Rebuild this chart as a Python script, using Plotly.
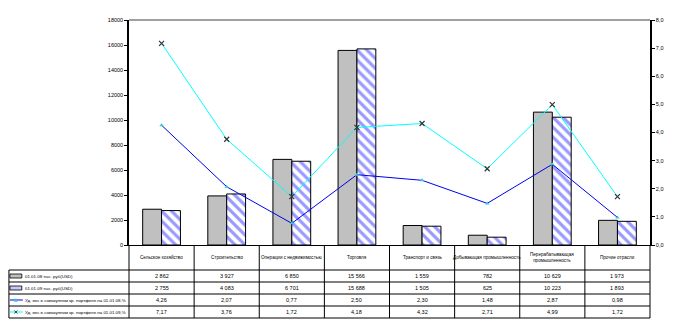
import plotly.graph_objects as go

categories = ["Сельское хозяйство", "Строительство", "Операции с недвижимостью", "Торговля",
              "Транспорт и связь", "Добывающая промышленность",
              "Перерабатывающая<br>промышленность", "Прочие отрасли"]
vol_2008 = [2862, 3927, 6850, 15566, 1559, 782, 10629, 1973]
vol_2009 = [2755, 4083, 6701, 15688, 1505, 625, 10223, 1893]
share_2008 = [4.26, 2.07, 0.77, 2.50, 2.30, 1.48, 2.87, 0.98]
share_2009 = [7.17, 3.76, 1.72, 4.18, 4.32, 2.71, 4.99, 1.72]
row_labels = ["01.01.08 тыс. руб(USD)", "01.01.09 тыс. руб(USD)",
              "Уд. вес в совокупном кр. портфеле на 01.01.08,%",
              "Уд. вес в совокупном кр. портфеле на 01.01.09,%"]
left_ticks = [0, 2000, 4000, 6000, 8000, 10000, 12000, 14000, 16000, 18000]
right_ticks = [0, 1, 2, 3, 4, 5, 6, 7, 8]

W, H = 676, 327
L, R, T, B = 129, 654, 20, 245
PW, PH = R - L, B - T
FONT = "Liberation Sans, Arial, sans-serif"
n = len(categories)
x = list(range(n))

def px(v):
    return (v - L) / PW

def py(v):
    return (B - v) / PH

fig = go.Figure()
fig.add_trace(go.Bar(x=x, y=vol_2008, marker=dict(color="#C0C0C0", line=dict(color="black", width=1)),
                     name=row_labels[0]))
fig.add_trace(go.Bar(x=x, y=vol_2009,
                     marker=dict(color="white", line=dict(color="black", width=1),
                                 pattern=dict(shape="\\", fgcolor="#9999FF", bgcolor="white",
                                              size=7, solidity=0.45, fillmode="replace")),
                     name=row_labels[1]))
fig.add_trace(go.Scatter(x=x, y=share_2008, yaxis="y2", mode="lines+markers",
                         line=dict(color="#0000EE", width=1),
                         marker=dict(symbol="triangle-up", size=4, color="#33CCCC"),
                         name=row_labels[2]))
fig.add_trace(go.Scatter(x=x, y=share_2009, yaxis="y2", mode="lines+markers",
                         line=dict(color="#00FFFF", width=1),
                         marker=dict(symbol="x-thin", size=5, color="#333333",
                                     line=dict(color="#333333", width=1.2)),
                         name=row_labels[3]))

shapes = []
ann = []
# top border of plot
shapes.append(dict(type="line", xref="paper", yref="paper", x0=0, x1=1, y0=1, y1=1,
                   line=dict(color="#808080", width=1.5)))
# table lines
row_y = [270, 282, 294, 306, 318]
for yy in row_y:
    shapes.append(dict(type="line", xref="paper", yref="paper", x0=px(8), x1=1, y0=py(yy), y1=py(yy),
                       line=dict(color="black", width=1)))
for i in range(n + 1):
    xv = i / n
    shapes.append(dict(type="line", xref="paper", yref="paper", x0=xv, x1=xv, y0=0, y1=py(318),
                       line=dict(color="black", width=1)))
shapes.append(dict(type="line", xref="paper", yref="paper", x0=px(8), x1=px(8), y0=py(270), y1=py(318),
                   line=dict(color="black", width=1)))

# header texts
for i, c in enumerate(categories):
    ann.append(dict(x=i, y=py(257), xref="x", yref="paper", text=c, showarrow=False,
                    font=dict(size=4.6, family=FONT, color="black"), yanchor="middle"))

def fmt_int(v):
    return f"{v:,}".replace(",", " ")

def fmt_pct(v):
    return f"{v:.2f}".replace(".", ",")

rows = [[fmt_int(v) for v in vol_2008], [fmt_int(v) for v in vol_2009],
        [fmt_pct(v) for v in share_2008], [fmt_pct(v) for v in share_2009]]
for r, vals in enumerate(rows):
    yc = (row_y[r] + row_y[r + 1]) / 2
    for i, t in enumerate(vals):
        ann.append(dict(x=i, y=py(yc), xref="x", yref="paper", text=t, showarrow=False,
                        font=dict(size=5.5, family=FONT, color="black"), yanchor="middle"))
    ann.append(dict(x=px(22), y=py(yc), xref="paper", yref="paper", text=row_labels[r], showarrow=False,
                    xanchor="left", yanchor="middle", font=dict(size=4.4, family=FONT, color="black")))

# legend keys
yc0 = (row_y[0] + row_y[1]) / 2
shapes.append(dict(type="rect", xref="paper", yref="paper", x0=px(9), x1=px(21), y0=py(yc0 - 2), y1=py(yc0 + 2),
                   fillcolor="#C0C0C0", line=dict(color="black", width=0.8)))
yc1 = (row_y[1] + row_y[2]) / 2
shapes.append(dict(type="rect", xref="paper", yref="paper", x0=px(9), x1=px(21), y0=py(yc1 - 2), y1=py(yc1 + 2),
                   fillcolor="#C8C8FF", line=dict(color="black", width=0.8)))
yc2 = (row_y[2] + row_y[3]) / 2
shapes.append(dict(type="line", xref="paper", yref="paper", x0=px(9), x1=px(22), y0=py(yc2), y1=py(yc2),
                   line=dict(color="#0000EE", width=1)))
shapes.append(dict(type="path", xref="paper", yref="paper",
                   path=f"M {px(13.5)} {py(yc2+1.5)} L {px(16.5)} {py(yc2+1.5)} L {px(15)} {py(yc2-1.5)} Z",
                   fillcolor="#33CCCC", line=dict(color="#33CCCC", width=0.5)))
yc3 = (row_y[3] + row_y[4]) / 2
shapes.append(dict(type="line", xref="paper", yref="paper", x0=px(9), x1=px(22), y0=py(yc3), y1=py(yc3),
                   line=dict(color="#00FFFF", width=1)))
for s in (-1, 1):
    shapes.append(dict(type="line", xref="paper", yref="paper", x0=px(13.5), x1=px(16.5),
                       y0=py(yc3 - 1.5 * s), y1=py(yc3 + 1.5 * s), line=dict(color="#333333", width=1)))

fig.update_layout(
    width=W, height=H, margin=dict(l=L, r=W - R, t=T, b=H - B),
    paper_bgcolor="white", plot_bgcolor="white", showlegend=False,
    barmode="group", bargap=0.42, bargroupgap=0,
    font=dict(family=FONT, size=6, color="black"),
    xaxis=dict(range=[-0.5, n - 0.5], showticklabels=False, ticks="", showgrid=False,
               showline=True, linecolor="black", linewidth=1, zeroline=False, fixedrange=True),
    yaxis=dict(range=[0, 18000], tickvals=left_ticks, ticktext=[str(v) for v in left_ticks],
               ticks="outside", ticklen=3, tickcolor="black", showgrid=False, zeroline=False,
               showline=True, linecolor="black", linewidth=1.5,
               tickfont=dict(size=5.5, family=FONT, color="black")),
    yaxis2=dict(range=[0, 8], overlaying="y", side="right", tickvals=right_ticks,
                ticktext=[f"{v:.1f}".replace(".", ",") for v in right_ticks],
                ticks="outside", ticklen=3, tickcolor="black", showgrid=False, zeroline=False,
                showline=True, linecolor="black", linewidth=1.5,
                tickfont=dict(size=5.5, family=FONT, color="black")),
    shapes=shapes, annotations=ann,
)
fig.write_html("out.html")
